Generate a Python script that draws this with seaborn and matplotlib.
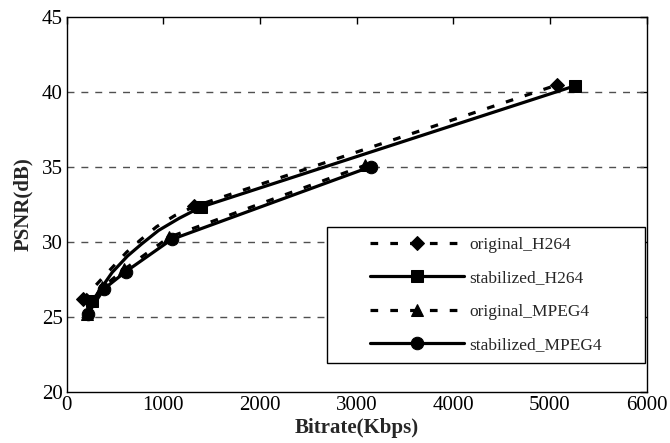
import matplotlib
matplotlib.use("Agg")
import matplotlib.pyplot as plt
from matplotlib.patches import Rectangle
import seaborn as sns

# ---- data ----
orig_h264_x = [165, 460, 620, 760, 930, 1120, 1320, 5070]
orig_h264_y = [26.15, 28.2, 29.3, 30.1, 31.0, 31.75, 32.35, 40.45]
orig_h264_marks = [0, 6, 7]

stab_h264_x = [265, 470, 630, 775, 950, 1160, 1385, 5260]
stab_h264_y = [26.05, 27.95, 29.05, 29.85, 30.75, 31.55, 32.3, 40.4]
stab_h264_marks = [0, 6, 7]

orig_mpeg4_x = [205, 370, 595, 1060, 3090]
orig_mpeg4_y = [25.2, 26.95, 28.15, 30.3, 35.1]
stab_mpeg4_x = [215, 385, 610, 1085, 3145]
stab_mpeg4_y = [25.15, 26.85, 28.0, 30.15, 35.0]

labels = ["original_H264", "stabilized_H264", "original_MPEG4", "stabilized_MPEG4"]
x_ticks = [0, 1000, 2000, 3000, 4000, 5000, 6000]
y_ticks = [20, 25, 30, 35, 40, 45]

sns.set_style("white")
plt.rcParams["font.family"] = ["Liberation Serif", "DejaVu Serif"]
plt.rcParams["xtick.direction"] = "in"
plt.rcParams["ytick.direction"] = "in"

fig = plt.figure(figsize=(6.70, 4.43), dpi=100)
ax = fig.add_axes([0.0996, 0.116, 0.8654, 0.846])

lw = 2.3
ms = 9
dash = (2.4, 3.8)

sns.lineplot(x=orig_h264_x, y=orig_h264_y, ax=ax, color="black", lw=lw,
             linestyle=(0, dash), marker="D", markersize=ms - 1.5,
             markevery=orig_h264_marks, label=labels[0], sort=False, zorder=4)
sns.lineplot(x=stab_h264_x, y=stab_h264_y, ax=ax, color="black", lw=lw,
             linestyle="-", marker="s", markersize=ms,
             markevery=stab_h264_marks, label=labels[1], sort=False, zorder=3)
sns.lineplot(x=orig_mpeg4_x, y=orig_mpeg4_y, ax=ax, color="black", lw=lw,
             linestyle=(0, dash), marker="^", markersize=ms,
             label=labels[2], sort=False, zorder=4)
sns.lineplot(x=stab_mpeg4_x, y=stab_mpeg4_y, ax=ax, color="black", lw=lw,
             linestyle="-", marker="o", markersize=ms,
             label=labels[3], sort=False, zorder=3)

for ln in ax.get_lines():
    ln.set_markeredgecolor("black")
    ln.set_markerfacecolor("black")

ax.set_xlim(0, 6000)
ax.set_ylim(20, 45)
ax.set_xticks(x_ticks)
ax.set_yticks(y_ticks)
ax.tick_params(labelsize=15, length=5, width=1, colors="black",
               top=True, right=True, pad=3)
ax.set_xticklabels([str(t) for t in x_ticks])
ax.set_yticklabels([str(t) for t in y_ticks])

for yv in y_ticks[1:-1]:
    ax.axhline(yv, color="#505050", lw=1.0, linestyle=(0, (5, 5)), zorder=1)

for s in ax.spines.values():
    s.set_visible(True)
    s.set_color("black")
    s.set_linewidth(1.0)

ax.set_xlabel("Bitrate(Kbps)", fontsize=15, fontweight="bold", labelpad=2)
ax.set_ylabel("PSNR(dB)", fontsize=15, fontweight="bold", labelpad=6)

# legend frame
rect = Rectangle((0.449, 0.077), 0.548, 0.363, transform=ax.transAxes,
                 facecolor="white", edgecolor="black", lw=1.0, zorder=5)
ax.add_patch(rect)
leg = ax.legend(loc="center", bbox_to_anchor=(0.723, 0.258), frameon=False,
                fontsize=12.5, handlelength=5.4, handletextpad=0.3,
                labelspacing=1.0, borderpad=0.2)
leg.set_zorder(6)

fig.savefig("out.png", dpi=100)
